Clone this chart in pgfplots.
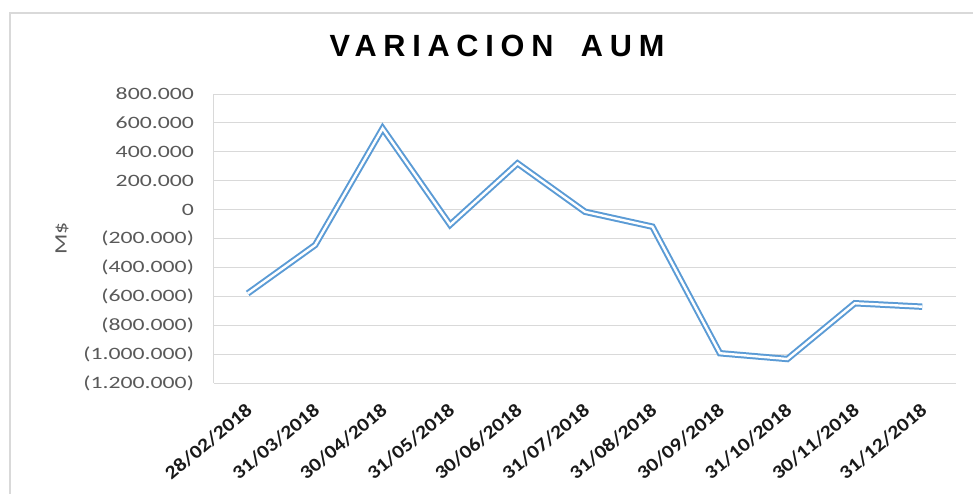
\documentclass[border=0pt]{standalone}
\usepackage{fontspec}
\setmainfont{Carlito}[FakeStretch=1.37]
\newfontfamily\xlabfont{Carlito}[FakeStretch=1.15]
\newfontfamily\titlefont{Liberation Sans}[LetterSpace=22]
\usepackage{pgfplots}
\pgfplotsset{compat=1.18}
\definecolor{lineblue}{RGB}{91,155,213}
\definecolor{tickgray}{RGB}{89,89,89}
\definecolor{gridgray}{RGB}{217,217,217}
\definecolor{bordergray}{RGB}{217,217,217}

\pgfplotstableread{
x y
0 -580000
1 -245000
2 562000
3 -105000
4 320000
5 -15000
6 -118000
7 -994000
8 -1034000
9 -648000
10 -672000
}\aumdata

\begin{document}
\begin{tikzpicture}
\draw[bordergray, line width=0.9pt] (-153pt,-120pt) -- (-153pt,277.5pt) -- (620pt,277.5pt);
\begin{axis}[
  at={(0pt,0pt)}, anchor=south west,
  scale only axis, width=556.5pt, height=216.75pt,
  xmin=-0.5, xmax=10.5, ymin=-1200000, ymax=800000,
  xtick={0,...,10},
  xticklabels={28/02/2018,31/03/2018,30/04/2018,31/05/2018,30/06/2018,31/07/2018,31/08/2018,30/09/2018,31/10/2018,30/11/2018,31/12/2018},
  ytick={-1200000,-1000000,-800000,-600000,-400000,-200000,0,200000,400000,600000,800000},
  yticklabels={(1.200.000),(1.000.000),(800.000),(600.000),(400.000),(200.000),0,200.000,400.000,600.000,800.000},
  scaled y ticks=false,
  ymajorgrids, grid style={gridgray, line width=0.75pt},
  axis lines*=left,
  x axis line style={draw=none},
  y axis line style={gridgray, line width=0.75pt},
  major tick length=0pt,
  tick style={draw=none},
  yticklabel style={font=\fontsize{13}{15}\selectfont, text=tickgray, xshift=-11.5pt},
  xticklabel style={font=\xlabfont\bfseries\fontsize{14.2}{16}\selectfont, text=black!90, anchor=north east, inner sep=1pt, xshift=-2pt, yshift=-12.5pt, rotate=40},
  ylabel={M\$},
  every axis y label/.style={at={([xshift=-114pt]axis description cs:0,0.5)}, rotate=90, anchor=center, font=\fontsize{13}{15}\selectfont, text=tickgray},
  clip=false,
]
\addplot[draw=lineblue, double=white, double distance=1.8pt, line width=1.5pt, line join=miter, mark=none] table[x=x,y=y] {\aumdata};
\end{axis}
\node[anchor=base, font=\titlefont\bfseries\fontsize{23}{27}\selectfont] at (212.25pt,244.7pt) {VARIACION\hspace{0.9em}AUM};
\pgfresetboundingbox
\path[use as bounding box] (-160.5pt,-82.5pt) rectangle (569.25pt,287.25pt);
\end{tikzpicture}
\end{document}
